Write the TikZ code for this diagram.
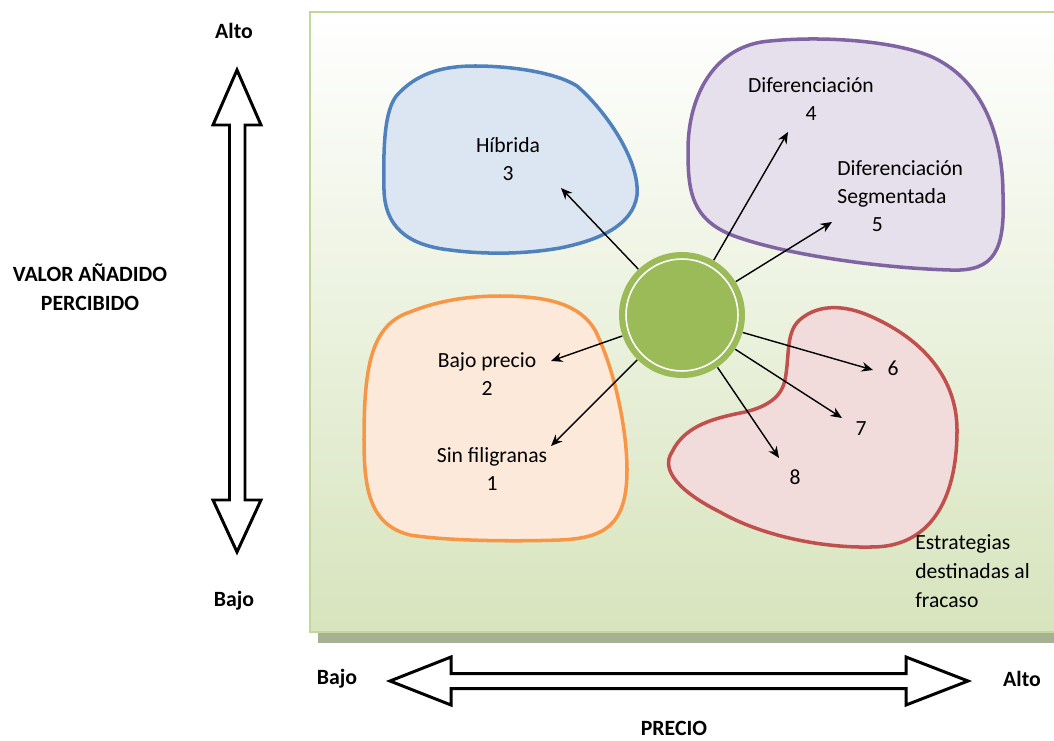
\documentclass[tikz,border=0pt]{standalone}
\usepackage{fontspec}
\setmainfont{Carlito}
\usetikzlibrary{positioning,arrows.meta,calc}
\definecolor{azulBorde}{HTML}{4F81BD}
\definecolor{azulRelleno}{HTML}{DCE6F2}
\definecolor{moradoBorde}{HTML}{8064A2}
\definecolor{moradoRelleno}{HTML}{E5E0EC}
\definecolor{naranjaBorde}{HTML}{F79646}
\definecolor{naranjaRelleno}{HTML}{FDE9D9}
\definecolor{rojoBorde}{HTML}{C0504D}
\definecolor{rojoRelleno}{HTML}{F2DCDB}
\definecolor{verdeCentro}{HTML}{9BBB59}
\definecolor{verdePanel}{HTML}{D7E4BD}
\definecolor{verdeMarco}{HTML}{C3D69B}
\definecolor{sombraPanel}{HTML}{A6B191}

\begin{document}
\begin{tikzpicture}[
    x=0.02cm, y=-0.02cm,
    every node/.style={font=\fontsize{12.3}{15.9}\selectfont, inner sep=0pt, align=center},
    ejeLabel/.style={font=\fontsize{12.4}{16.5}\selectfont\bfseries},
    zona/.style={line width=2pt},
    flecha/.style={-{Stealth[length=6.5pt,width=5.5pt]}, line width=0.8pt},
    bloque/.style={draw=black, line width=1.7pt, fill=white, line join=miter},
    hubNode/.style={circle, fill=verdeCentro, minimum size=2.52cm, inner sep=0pt,
        path picture={\draw[white, line width=0.9pt] (path picture bounding box.center) circle (1.12cm);}}
]
    \useasboundingbox (0,0) rectangle (1054,740);

    % Panel con sombra
    \fill[sombraPanel] (318,22) rectangle (1064,643);
    \shade[top color=white, bottom color=verdePanel] (310,12) rectangle (1064,632);
    \draw[verdeMarco, line width=1pt] (1064,12) -- (310,12) -- (310,632) -- (1064,632);

    % Zona 3 (Hibrida)
    \draw[zona, draw=azulBorde, fill=azulRelleno] (400,92)
        .. controls (420,72) and (445,66) .. (475,66)
        .. controls (510,66) and (555,72) .. (577,86)
        .. controls (605,110) and (640,160) .. (637,195)
        .. controls (633,225) and (600,240) .. (560,248)
        .. controls (520,255) and (480,254) .. (450,250)
        .. controls (405,245) and (385,225) .. (384,190)
        .. controls (383,140) and (385,105) .. cycle;

    % Zona 4-5 (Diferenciacion)
    \draw[zona, draw=moradoBorde, fill=moradoRelleno] (688,150)
        .. controls (688,95) and (715,45) .. (770,41)
        .. controls (820,36) and (890,40) .. (930,56)
        .. controls (985,80) and (1003,140) .. (1003,195)
        .. controls (1005,250) and (995,272) .. (950,270)
        .. controls (880,268) and (790,255) .. (740,238)
        .. controls (690,222) and (688,190) .. cycle;

    % Zona 1-2 (Bajo precio)
    \draw[zona, draw=naranjaBorde, fill=naranjaRelleno] (364,440)
        .. controls (364,370) and (370,325) .. (410,312)
        .. controls (440,300) and (470,296) .. (500,296)
        .. controls (550,296) and (580,305) .. (595,330)
        .. controls (615,370) and (627,430) .. (627,470)
        .. controls (627,525) and (605,538) .. (560,540)
        .. controls (500,542) and (440,540) .. (410,535)
        .. controls (370,525) and (364,490) .. cycle;

    % Zona 6-7-8 (fracaso)
    \draw[zona, draw=rojoBorde, fill=rojoRelleno] (785,380)
        .. controls (790,355) and (785,330) .. (802,318)
        .. controls (820,304) and (845,305) .. (870,316)
        .. controls (925,340) and (957,380) .. (957,430)
        .. controls (957,500) and (930,548) .. (870,547)
        .. controls (820,548) and (760,535) .. (720,512)
        .. controls (680,492) and (660,470) .. (672,452)
        .. controls (685,425) and (715,418) .. (745,412)
        .. controls (770,406) and (782,395) .. cycle;

    % Centro
    \node[hubNode] (hub) at (682,315) {};

    % Destinos de las flechas
    \coordinate (t1) at (551,446);
    \coordinate (t2) at (551,361);
    \coordinate (t3) at (561,188);
    \coordinate (t4) at (788,132);
    \coordinate (t5) at (832,222);
    \coordinate (t6) at (873,370);
    \coordinate (t7) at (842,418);
    \coordinate (t8) at (779,458);
    \foreach \t in {t1,t2,t3,t4,t5,t6,t7,t8}
        \draw[flecha] (hub) -- (\t);

    % Textos de las zonas
    \node (hibrida) at (508,159) {Híbrida\\3};
    \node (difer) at (811,99) {Diferenciación\\4};
    \node[anchor=west, align=left] (segment) at (837,196) {Diferenciación\\Segmentada\\\hspace{1.6em}5};
    \node (bajoPrecio) at (487,374) {Bajo precio\\2};
    \node (sinFilig) at (492,469) {Sin filigranas\\1};
    \node (n6) at (893,368) {6};
    \node (n7) at (861,429) {7};
    \node (n8) at (795,477) {8};
    \node[anchor=west, align=left, font=\fontsize{12.3}{16.5}\selectfont] (fracaso) at (915,571) {Estrategias\\destinadas al\\fracaso};

    % Eje vertical
    \draw[bloque] (237,70) -- (261,125) -- (245,125) -- (245,500) -- (261,500) -- (237,552)
        -- (213,500) -- (229.5,500) -- (229.5,125) -- (213,125) -- cycle;
    \node[ejeLabel] (vAlto) at (234,31) {Alto};
    \node[ejeLabel] (vBajo) at (234,601) {Bajo};
    \node[ejeLabel] (valor) at (90,287) {VALOR AÑADIDO\\PERCIBIDO};

    % Eje horizontal
    \draw[bloque] (390,681) -- (451,657) -- (451,673.5) -- (906,673.5) -- (906,657) -- (968,681)
        -- (906,705) -- (906,688.5) -- (451,688.5) -- (451,705) -- cycle;
    \node[ejeLabel] (hBajo) at (337,679) {Bajo};
    \node[ejeLabel] (hAlto) at (1022,679) {Alto};
    \node[ejeLabel] (precio) at (674,728) {PRECIO};
\end{tikzpicture}
\end{document}
